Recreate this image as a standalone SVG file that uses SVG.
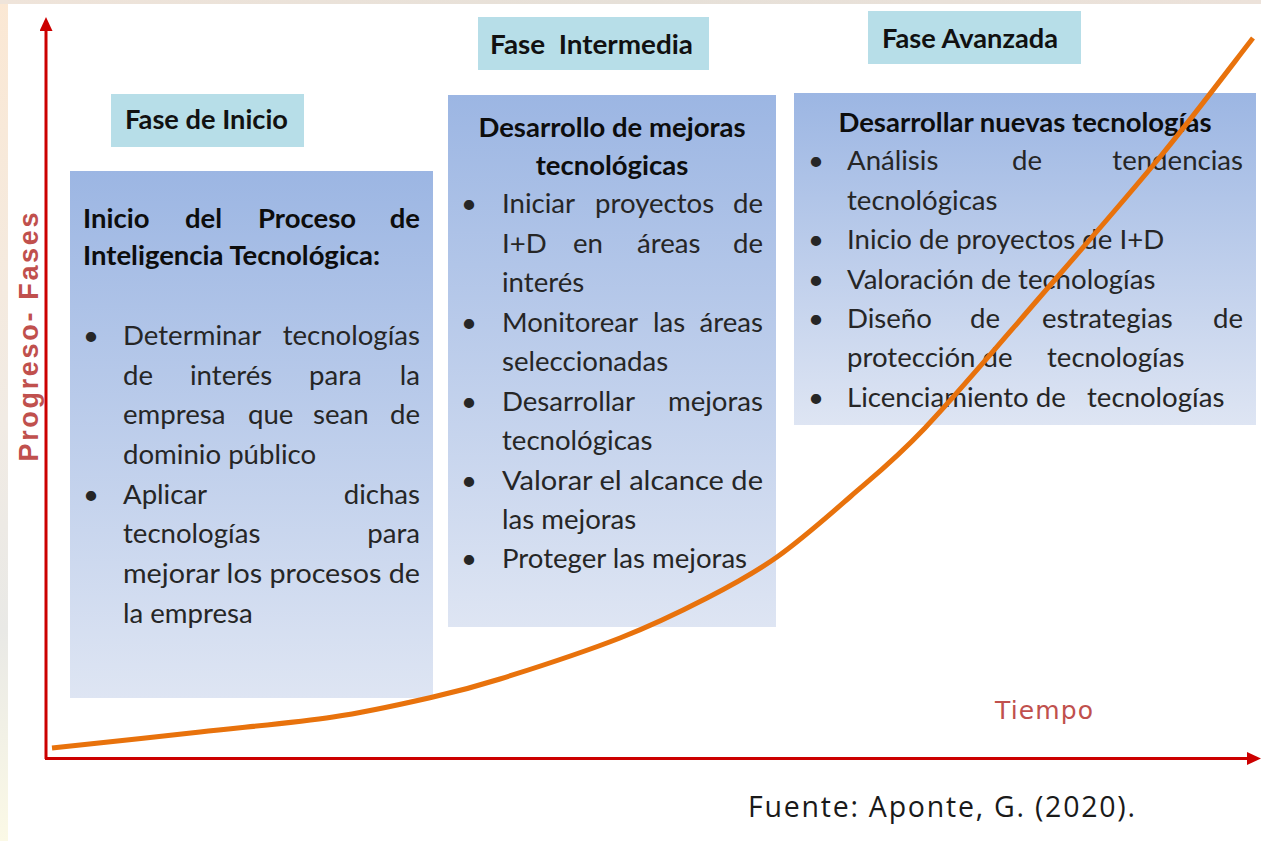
<svg xmlns="http://www.w3.org/2000/svg" width="1261" height="841" viewBox="0 0 1261 841">
<defs>
  <linearGradient id="boxGrad" x1="0" y1="0" x2="0" y2="1">
    <stop offset="0" stop-color="#9cb6e3"/>
    <stop offset="1" stop-color="#dee5f3"/>
  </linearGradient>
  <linearGradient id="edgeGrad" x1="0" y1="0" x2="0" y2="1">
    <stop offset="0" stop-color="#fbe8d4"/>
    <stop offset="0.5" stop-color="#f1ebe4"/>
    <stop offset="0.75" stop-color="#e9e9e6"/>
    <stop offset="1" stop-color="#fbf9e6"/>
  </linearGradient>
  <linearGradient id="topGrad" x1="0" y1="0" x2="1" y2="0">
    <stop offset="0" stop-color="#efe4da"/>
    <stop offset="0.5" stop-color="#e6e0d8"/>
    <stop offset="1" stop-color="#ece2da"/>
  </linearGradient>
  <marker id="arrow" markerUnits="userSpaceOnUse" markerWidth="14" markerHeight="13" refX="0" refY="6.5" orient="auto" viewBox="0 0 14 13">
    <path d="M0,0 L14,6.5 L0,13 z" fill="#cc0000"/>
  </marker>
  <style>
    .phase { fill: #b7dee8; }
    .box { fill: url(#boxGrad); }
    .lbl { font-family: Lato, "Liberation Sans", sans-serif; font-size: 26px; font-weight: 700; fill: #111; }
    .ttl { font-family: Lato, "Liberation Sans", sans-serif; font-size: 27.5px; font-weight: 700; fill: #0d0d0d; }
    .txt { font-family: Lato, "Liberation Sans", sans-serif; font-size: 27.6px; fill: #262626; }
    .end { text-anchor: end; }
    .axis { stroke: #cc0000; stroke-width: 3; fill: none; }
    .curve { stroke: #e8720c; stroke-width: 5; fill: none; stroke-linejoin: round; stroke-linecap: butt; }
  </style>
</defs>

<rect x="0" y="0" width="1261" height="841" fill="#ffffff"/>
<rect x="0" y="0" width="8" height="841" fill="url(#edgeGrad)"/>
<rect x="0" y="0" width="1261" height="4" fill="url(#topGrad)"/>

<g id="phase-labels">
  <g id="label-inicio">
    <rect class="phase" x="111" y="94" width="193" height="53"/>
    <text class="lbl" x="125" y="129" textLength="163" lengthAdjust="spacingAndGlyphs">Fase de Inicio</text>
  </g>
  <g id="label-intermedia">
    <rect class="phase" x="478" y="17" width="231" height="53"/>
    <text class="lbl" x="490" y="54" textLength="203" lengthAdjust="spacingAndGlyphs" xml:space="preserve">Fase  Intermedia</text>
  </g>
  <g id="label-avanzada">
    <rect class="phase" x="868" y="11" width="213" height="53"/>
    <text class="lbl" x="882" y="48" textLength="176" lengthAdjust="spacingAndGlyphs">Fase Avanzada</text>
  </g>
</g>

<g id="box-inicio">
  <rect class="box" x="70" y="171" width="363" height="527"/>
  <text class="ttl" y="228"><tspan x="83">Inicio</tspan><tspan x="185">del</tspan><tspan x="258">Proceso</tspan></text>
  <text class="ttl end" x="420" y="228">de</text>
  <text class="ttl" x="83" y="265">Inteligencia Tecnológica:</text>
  <text class="txt" x="83" y="345">•</text>
  <text class="txt" x="123" y="345">Determinar</text>
  <text class="txt end" x="420" y="345">tecnologías</text>
  <text class="txt" y="385"><tspan x="123">de</tspan><tspan x="190">interés</tspan><tspan x="309">para</tspan></text>
  <text class="txt end" x="420" y="385">la</text>
  <text class="txt" y="424"><tspan x="123">empresa</tspan><tspan x="248">que</tspan><tspan x="313">sean</tspan></text>
  <text class="txt end" x="420" y="424">de</text>
  <text class="txt" x="123" y="464">dominio público</text>
  <text class="txt" x="83" y="504">•</text>
  <text class="txt" x="123" y="504">Aplicar</text>
  <text class="txt end" x="420" y="504">dichas</text>
  <text class="txt" x="123" y="543">tecnologías</text>
  <text class="txt end" x="420" y="543">para</text>
  <text class="txt" x="123" y="583" textLength="297" lengthAdjust="spacingAndGlyphs">mejorar los procesos de</text>
  <text class="txt" x="123" y="623">la empresa</text>
</g>

<g id="box-intermedia">
  <rect class="box" x="448" y="95" width="328" height="532"/>
  <text class="ttl" x="612" y="137" text-anchor="middle">Desarrollo de mejoras</text>
  <text class="ttl" x="612" y="175" text-anchor="middle">tecnológicas</text>
  <text class="txt" x="461" y="213">•</text>
  <text class="txt" y="213"><tspan x="502">Iniciar</tspan><tspan x="595">proyectos</tspan></text>
  <text class="txt end" x="763" y="213">de</text>
  <text class="txt" y="253"><tspan x="502">I+D</tspan><tspan x="573">en</tspan><tspan x="637">áreas</tspan></text>
  <text class="txt end" x="763" y="253">de</text>
  <text class="txt" x="502" y="292">interés</text>
  <text class="txt" x="461" y="332">•</text>
  <text class="txt" y="332"><tspan x="502">Monitorear</tspan><tspan x="653">las</tspan></text>
  <text class="txt end" x="763" y="332">áreas</text>
  <text class="txt" x="502" y="371">seleccionadas</text>
  <text class="txt" x="461" y="411">•</text>
  <text class="txt" x="502" y="411">Desarrollar</text>
  <text class="txt end" x="763" y="411">mejoras</text>
  <text class="txt" x="502" y="450">tecnológicas</text>
  <text class="txt" x="461" y="490">•</text>
  <text class="txt" x="502" y="490" textLength="261" lengthAdjust="spacingAndGlyphs">Valorar el alcance de</text>
  <text class="txt" x="502" y="529">las mejoras</text>
  <text class="txt" x="461" y="568">•</text>
  <text class="txt" x="502" y="568">Proteger las mejoras</text>
</g>

<g id="box-avanzada">
  <rect class="box" x="794" y="93" width="462" height="332"/>
  <text class="ttl" x="1025" y="132" text-anchor="middle">Desarrollar nuevas tecnologías</text>
  <text class="txt" x="808" y="170">•</text>
  <text class="txt" y="170"><tspan x="847">Análisis</tspan><tspan x="1012">de</tspan></text>
  <text class="txt end" x="1243" y="170">tendencias</text>
  <text class="txt" x="847" y="210">tecnológicas</text>
  <text class="txt" x="808" y="249">•</text>
  <text class="txt" x="847" y="249">Inicio de proyectos de I+D</text>
  <text class="txt" x="808" y="289">•</text>
  <text class="txt" x="847" y="289">Valoración de tecnologías</text>
  <text class="txt" x="808" y="328">•</text>
  <text class="txt" y="328"><tspan x="847">Diseño</tspan><tspan x="970">de</tspan><tspan x="1042">estrategias</tspan></text>
  <text class="txt end" x="1243" y="328">de</text>
  <text class="txt" y="367"><tspan x="847">protección de</tspan><tspan x="1047">tecnologías</tspan></text>
  <text class="txt" x="808" y="407">•</text>
  <text class="txt" y="407"><tspan x="847">Licenciamiento de</tspan><tspan x="1087">tecnologías</tspan></text>
</g>

<g id="connectors">
  <line class="axis" x1="46" y1="759" x2="46" y2="31" marker-end="url(#arrow)"/>
  <line class="axis" x1="45" y1="758.5" x2="1247" y2="758.5" marker-end="url(#arrow)"/>
  <path id="growth-curve" class="curve" d="M52,748 C76.7,745.3 153.2,737.2 200,732 C246.8,726.8 294.2,722.8 333,717 C371.8,711.2 405.2,703.3 433,697 C460.8,690.7 468.8,688.8 500,679 C531.2,669.2 585.5,651.5 620,638 C654.5,624.5 680.8,611.5 707,598 C733.2,584.5 753.2,573.8 777,557 C800.8,540.2 825.3,518.5 850,497 C874.7,475.5 893.3,461.3 925,428 C956.7,394.7 1000.8,342.2 1040,297 C1079.2,251.8 1124.5,200.2 1160,157 C1195.5,113.8 1237.5,57.8 1253,38"/>
</g>

<g id="axis-labels">
  <text x="38" y="337" transform="rotate(-90 38 337)" text-anchor="middle" font-family="'Liberation Sans', sans-serif" font-weight="700" font-size="27" fill="#c0504d" textLength="249" lengthAdjust="spacing">Progreso- Fases</text>
  <text x="995" y="719" font-family="'DejaVu Sans', sans-serif" font-size="25" fill="#c0504d" textLength="98" lengthAdjust="spacing">Tiempo</text>
  <text x="748" y="817" font-family="'Open Sans', sans-serif" font-size="28.5" fill="#1a1a1a" textLength="387" lengthAdjust="spacing">Fuente: Aponte, G. (2020).</text>
</g>
</svg>
